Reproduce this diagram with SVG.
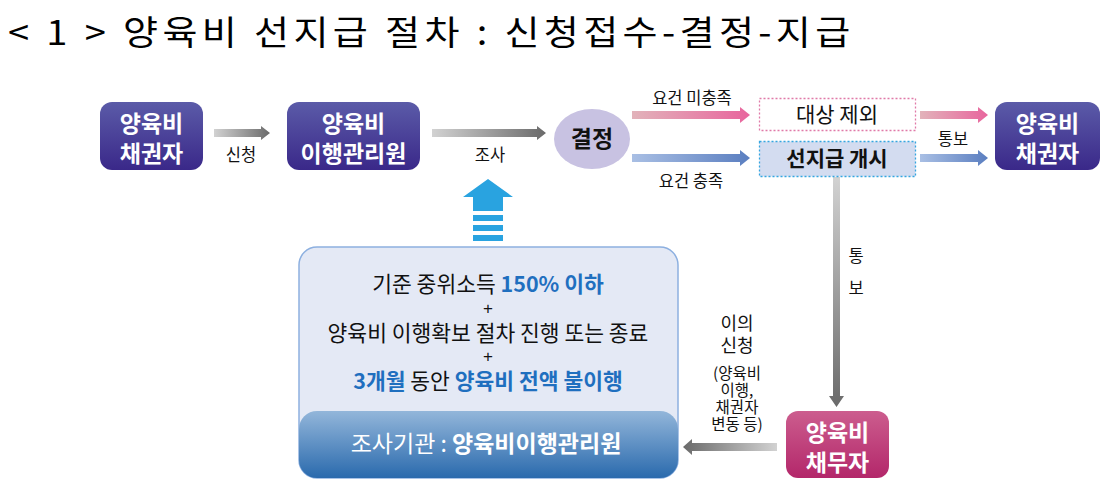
<svg xmlns="http://www.w3.org/2000/svg" width="1118" height="496" viewBox="0 0 1118 496">
<defs>
<linearGradient id="gPurple" x1="0" y1="0" x2="0" y2="1"><stop offset="0" stop-color="#5b5ba8"/><stop offset="1" stop-color="#3a2889"/></linearGradient>
<linearGradient id="gMagenta" x1="0" y1="0" x2="0" y2="1"><stop offset="0" stop-color="#cc5d8e"/><stop offset="1" stop-color="#b3276a"/></linearGradient>
<linearGradient id="gGrayR" x1="0" y1="0" x2="1" y2="0"><stop offset="0" stop-color="#d2d2d2"/><stop offset="1" stop-color="#6a6a6a"/></linearGradient>
<linearGradient id="gGrayL" x1="1" y1="0" x2="0" y2="0"><stop offset="0" stop-color="#d2d2d2"/><stop offset="1" stop-color="#6a6a6a"/></linearGradient>
<linearGradient id="gGrayD" x1="0" y1="0" x2="0" y2="1"><stop offset="0" stop-color="#d2d2d2"/><stop offset="1" stop-color="#6a6a6a"/></linearGradient>
<linearGradient id="gPink" x1="0" y1="0" x2="1" y2="0"><stop offset="0" stop-color="#e2b3ba"/><stop offset="1" stop-color="#e8659d"/></linearGradient>
<linearGradient id="gBlue" x1="0" y1="0" x2="1" y2="0"><stop offset="0" stop-color="#a9bfe4"/><stop offset="1" stop-color="#5a7ec0"/></linearGradient>
<linearGradient id="gBand" x1="0" y1="0" x2="0" y2="1"><stop offset="0" stop-color="#93b6da"/><stop offset="1" stop-color="#2a6aad"/></linearGradient>
<style>
text{font-family:"Noto Sans CJK KR","Noto Sans",sans-serif;}
.title{font-size:34px;fill:#000;}
.node{font-size:23px;font-weight:bold;fill:#fff;text-anchor:middle;}
.lbl{font-size:16.5px;fill:#111;text-anchor:middle;}
.lbl2{font-size:18px;fill:#111;text-anchor:middle;}
.small{font-size:15.5px;fill:#111;text-anchor:middle;}
.body{font-size:21.5px;fill:#111;text-anchor:middle;}
.plus{font-family:"Liberation Sans",sans-serif;font-size:17px;fill:#111;text-anchor:middle;}
.hl{fill:#1f6fbf;font-weight:bold;}
</style>
</defs>
<rect width="1118" height="496" fill="#fff"/>
<text class="title" transform="translate(8,45) scale(1.12,1)" x="0" y="0" textLength="752" lengthAdjust="spacing">&lt; 1 &gt; 양육비 선지급 절차 : 신청접수-결정-지급</text>

<g id="connectors">
<polygon fill="url(#gGrayR)" points="214,129 261,129 261,126 270,133 261,140 261,137 214,137"/>
<text class="lbl" x="241" y="161">신청</text>
<polygon fill="url(#gGrayR)" points="432,129 537,129 537,126 546,133 537,140 537,137 432,137"/>
<text class="lbl" x="490" y="161">조사</text>
<polygon fill="url(#gPink)" points="632,111 740,111 740,107 750,115 740,123 740,119 632,119"/>
<text class="lbl" x="692" y="104">요건 미충족</text>
<polygon fill="url(#gBlue)" points="632,154 740,154 740,150 750,158 740,166 740,162 632,162"/>
<text class="lbl" x="691" y="187">요건 충족</text>
<polygon fill="url(#gPink)" points="920,111 978,111 978,107 988,115 978,123 978,119 920,119"/>
<polygon fill="url(#gBlue)" points="920,154 978,154 978,150 988,158 978,166 978,162 920,162"/>
<text class="lbl" x="953" y="145">통보</text>
<polygon fill="url(#gGrayD)" points="833,177 840,177 840,396 844,396 836.5,407 829,396 833,396"/>
<text class="lbl" x="856" y="262">통<tspan x="856" dy="32">보</tspan></text>
<polygon fill="url(#gGrayL)" points="777,443 692,443 692,439 683,447 692,455 692,451 777,451"/>
<text class="lbl2" x="737" y="330">이의<tspan x="737" dy="22">신청</tspan></text>
<text class="small" x="737" y="379">(양육비<tspan x="737" dy="17">이행,</tspan><tspan x="737" dy="17">채권자</tspan><tspan x="737" dy="17">변동 등)</tspan></text>
<g fill="#29a3e0">
<polygon points="488,179 513,197 503,197 503,211 473,211 473,197 463,197"/>
<rect x="473" y="215" width="30" height="6"/>
<rect x="473" y="225" width="30" height="6"/>
<rect x="473" y="235" width="30" height="6"/>
</g>
</g>

<g id="node-creditor1">
<rect x="100" y="102" width="103" height="68" rx="12" fill="url(#gPurple)"/>
<text class="node" x="151.5" y="132">양육비</text>
<text class="node" x="151.5" y="162">채권자</text>
</g>
<g id="node-agency">
<rect x="287" y="102" width="133" height="68" rx="12" fill="url(#gPurple)"/>
<text class="node" x="353.5" y="132">양육비</text>
<text class="node" x="353.5" y="162">이행관리원</text>
</g>
<g id="node-decision">
<ellipse cx="592" cy="139" rx="38" ry="30" fill="#c8c2e2"/>
<text x="592" y="147" style="font-size:23px;font-weight:bold;fill:#111;text-anchor:middle">결정</text>
</g>
<g id="node-exclude">
<rect x="759.5" y="98.5" width="156" height="32" fill="#fff" stroke="#e07aa8" stroke-width="1.3" stroke-dasharray="2,2"/>
<text x="837" y="122" style="font-size:21px;fill:#111;text-anchor:middle">대상 제외</text>
</g>
<g id="node-start">
<rect x="759.5" y="141.5" width="156" height="35" fill="#d3dcf0" stroke="#35a6e0" stroke-width="1.3" stroke-dasharray="2,2"/>
<text x="837" y="166" style="font-size:21px;font-weight:bold;fill:#111;text-anchor:middle">선지급 개시</text>
</g>
<g id="node-creditor2">
<rect x="995" y="102" width="105" height="68" rx="12" fill="url(#gPurple)"/>
<text class="node" x="1047.5" y="132">양육비</text>
<text class="node" x="1047.5" y="162">채권자</text>
</g>
<g id="node-debtor">
<rect x="786" y="411" width="103" height="67" rx="12" fill="url(#gMagenta)"/>
<text class="node" x="837.5" y="441">양육비</text>
<text class="node" x="837.5" y="471">채무자</text>
</g>
<g id="node-criteria">
<rect x="299" y="247" width="379" height="231" rx="18" fill="#e4e9f5" stroke="#8db0e0" stroke-width="1.5"/>
<text class="body" x="488" y="292">기준 중위소득 <tspan class="hl">150% 이하</tspan></text>
<text class="plus" x="488" y="314">+</text>
<text class="body" x="488" y="341">양육비 이행확보 절차 진행 또는 종료</text>
<text class="plus" x="488" y="362">+</text>
<text class="body" x="488" y="389"><tspan class="hl">3개월</tspan> 동안 <tspan class="hl">양육비 전액 불이행</tspan></text>
<rect x="299" y="411" width="379" height="67" rx="18" fill="url(#gBand)"/>
<text x="486" y="452" style="font-size:23px;fill:#fff;text-anchor:middle">조사기관 : <tspan font-weight="bold">양육비이행관리원</tspan></text>
</g>
</svg>
